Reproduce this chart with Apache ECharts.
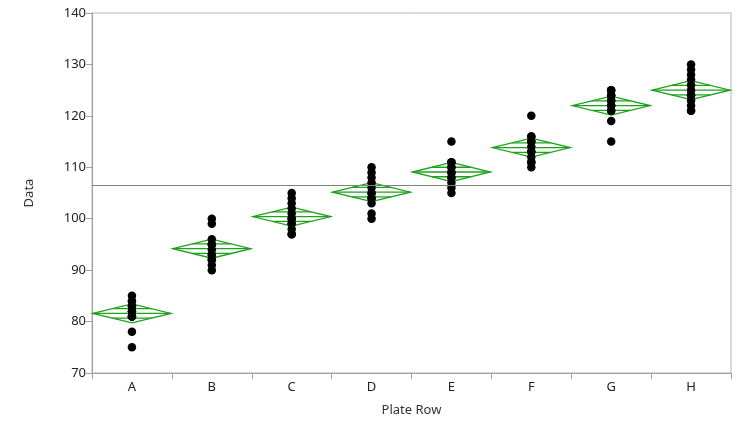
<!DOCTYPE html>
<html>
<head>
<meta charset="utf-8">
<script src="https://cdn.jsdelivr.net/npm/echarts@6/dist/echarts.min.js"></script>
<style>html,body{margin:0;padding:0;background:#fff}#c{width:744px;height:424px}</style>
</head>
<body>
<div id="c"></div>
<script>
var categories = ['A','B','C','D','E','F','G','H'];
var rowA = [85, 84, 84, 83, 83, 82, 82, 81, 81, 81, 78, 75];
var rowB = [100, 99, 96, 95, 95, 94, 93, 93, 92, 92, 91, 90];
var rowC = [105, 104, 103, 102, 101, 100, 100, 99, 99, 98, 97, 97];
var rowD = [110, 109, 108, 107, 106, 105, 105, 104, 104, 103, 101, 100];
var rowE = [115, 111, 111, 110, 110, 109, 109, 108, 108, 107, 106, 105];
var rowF = [120, 116, 116, 115, 115, 114, 113, 113, 112, 111, 111, 110];
var rowG = [125, 125, 124, 124, 123, 123, 122, 122, 121, 121, 119, 115];
var rowH = [130, 129, 128, 127, 126, 125, 124, 124, 123, 122, 121, 121];
var ciHalf = [1.85, 1.85, 1.85, 1.85, 1.85, 1.85, 1.85, 1.85];
var yTicks = [70, 80, 90, 100, 110, 120, 130, 140];

var groups = [rowA,rowB,rowC,rowD,rowE,rowF,rowG,rowH];
var points = [];
var diamonds = [];
var total = 0, count = 0;
groups.forEach(function(g, i){
  var s = 0;
  g.forEach(function(v){ points.push([i, v]); s += v; total += v; count++; });
  diamonds.push([i, s / g.length, ciHalf[i]]);
});
var grandMean = total / count;

var font = 'Noto Sans';
var chart = echarts.init(document.getElementById('c'), null, {renderer: 'canvas'});
chart.setOption({
  animation: false,
  grid: {left: 92, right: 13, top: 13, bottom: 51, show: true, borderColor: '#b4b4b4', borderWidth: 1},
  xAxis: {
    type: 'category', data: categories, boundaryGap: true,
    name: 'Plate Row', nameLocation: 'middle', nameGap: 31,
    nameTextStyle: {fontFamily: font, fontSize: 13, color: '#333'},
    axisLine: {lineStyle: {color: '#a0a0a0'}},
    axisTick: {show: true, length: 6, lineStyle: {color: '#a0a0a0'}},
    axisLabel: {fontFamily: font, fontSize: 13, color: '#222', margin: 8},
    splitLine: {show: false}
  },
  yAxis: {
    type: 'value', min: yTicks[0], max: yTicks[yTicks.length-1], interval: 10,
    name: 'Data', nameLocation: 'middle', nameGap: 56,
    nameTextStyle: {fontFamily: font, fontSize: 13, color: '#333'},
    axisLine: {show: true, lineStyle: {color: '#a0a0a0'}},
    axisTick: {show: true, length: 6, lineStyle: {color: '#a0a0a0'}},
    axisLabel: {fontFamily: font, fontSize: 13, color: '#222', margin: 6},
    splitLine: {show: false}
  },
  series: [
    {
      type: 'custom', z: 2, silent: true,
      data: diamonds,
      encode: {x: 0, y: 1},
      renderItem: function(params, api){
        var i = api.value(0), m = api.value(1), h = api.value(2);
        var c = api.coord([i, m]);
        var t = api.coord([i, m + h]);
        var b = api.coord([i, m - h]);
        var hw = api.size([1, 0])[0] / 2 - 1;
        var hh = (b[1] - t[1]) / 2;
        var o = hh * 0.5;
        var ow = hw * (1 - o / hh);
        var st = {stroke: '#1fa01f', lineWidth: 1.3, fill: null};
        return {type: 'group', children: [
          {type: 'polygon', shape: {points: [[c[0]-hw, c[1]], [t[0], t[1]], [c[0]+hw, c[1]], [b[0], b[1]]]}, style: st},
          {type: 'line', shape: {x1: c[0]-hw, y1: c[1], x2: c[0]+hw, y2: c[1]}, style: st},
          {type: 'line', shape: {x1: c[0]-ow, y1: c[1]-o, x2: c[0]+ow, y2: c[1]-o}, style: st},
          {type: 'line', shape: {x1: c[0]-ow, y1: c[1]+o, x2: c[0]+ow, y2: c[1]+o}, style: st}
        ]};
      }
    },
    {
      type: 'scatter', z: 3, data: points, symbol: 'circle', symbolSize: 8.5,
      itemStyle: {color: '#000', opacity: 1},
      markLine: {
        silent: true, symbol: 'none', label: {show: false},
        lineStyle: {color: '#808080', type: 'solid', width: 1},
        data: [{yAxis: grandMean}]
      }
    }
  ]
});
</script>
</body>
</html>
